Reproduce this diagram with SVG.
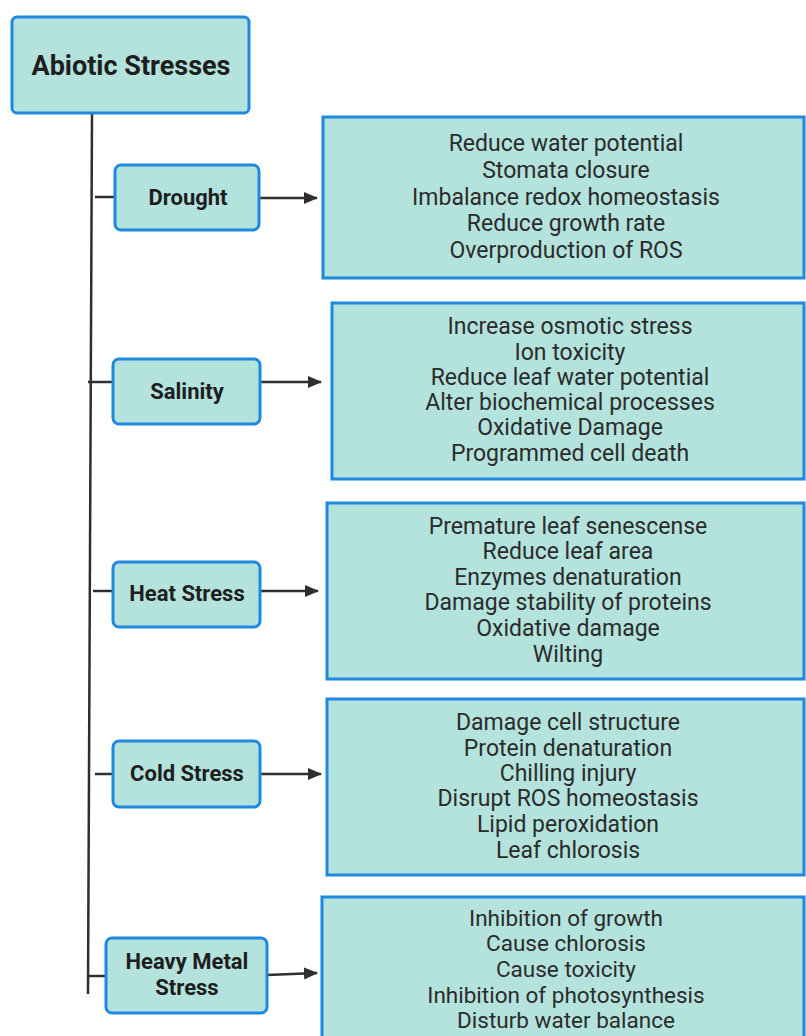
<svg xmlns="http://www.w3.org/2000/svg" width="806" height="1036" viewBox="0 0 806 1036">
<defs>
<style>
.node{fill:#b3e3dc;stroke:#1f88df;stroke-width:3}
.lbl{font-family:Roboto,"Liberation Sans",sans-serif;font-weight:bold;fill:#1e1e1e;text-anchor:middle;font-size:22px}
.res{font-family:Roboto,"Liberation Sans",sans-serif;font-size:23px;fill:#2b2b2b;text-anchor:middle}
.ln{stroke:#2e2e2e;stroke-width:2.5;fill:none}
</style>
<marker id="ah" markerWidth="14" markerHeight="14" refX="13" refY="7" orient="auto" markerUnits="userSpaceOnUse" viewBox="0 0 14 14">
<path d="M0,1 L14,7 L0,13 z" fill="#2e2e2e"/>
</marker>
</defs>
<rect width="806" height="1036" fill="#ffffff"/>
<g id="connectors">
<line class="ln" x1="92" y1="113" x2="88" y2="994"/>
<line class="ln" x1="95" y1="197" x2="115" y2="197"/>
<line class="ln" x1="259" y1="198" x2="317" y2="198" marker-end="url(#ah)"/>
<line class="ln" x1="88" y1="382" x2="113" y2="382"/>
<line class="ln" x1="260" y1="382" x2="321" y2="382" marker-end="url(#ah)"/>
<line class="ln" x1="93" y1="591" x2="113" y2="591"/>
<line class="ln" x1="260" y1="591" x2="318" y2="591" marker-end="url(#ah)"/>
<line class="ln" x1="95" y1="774" x2="113" y2="774"/>
<line class="ln" x1="260" y1="774" x2="321" y2="774" marker-end="url(#ah)"/>
<line class="ln" x1="88" y1="976" x2="106" y2="976"/>
<line class="ln" x1="267" y1="975" x2="317" y2="973" marker-end="url(#ah)"/>
</g>
<g id="root">
<rect class="node" x="12" y="17" width="237" height="96" rx="5"/>
<text class="lbl" x="131" y="75" style="font-size:27px">Abiotic Stresses</text>
</g>
<g id="drought">
<rect class="node" x="115" y="165" width="144" height="65" rx="6"/>
<text class="lbl" x="188" y="205">Drought</text>
</g>
<g id="drought-effects">
<rect class="node" x="323" y="117" width="481" height="161"/>
<text class="res" x="566" y="151">Reduce water potential</text>
<text class="res" x="566" y="178">Stomata closure</text>
<text class="res" x="566" y="205">Imbalance redox homeostasis</text>
<text class="res" x="566" y="231">Reduce growth rate</text>
<text class="res" x="566" y="258">Overproduction of ROS</text>
</g>
<g id="salinity">
<rect class="node" x="113" y="359" width="147" height="65" rx="6"/>
<text class="lbl" x="187" y="399">Salinity</text>
</g>
<g id="salinity-effects">
<rect class="node" x="332" y="303" width="472" height="176"/>
<text class="res" x="570" y="334">Increase osmotic stress</text>
<text class="res" x="570" y="360">Ion toxicity</text>
<text class="res" x="570" y="385">Reduce leaf water potential</text>
<text class="res" x="570" y="410">Alter biochemical processes</text>
<text class="res" x="570" y="435">Oxidative Damage</text>
<text class="res" x="570" y="461">Programmed cell death</text>
</g>
<g id="heat">
<rect class="node" x="113" y="562" width="147" height="65" rx="6"/>
<text class="lbl" x="187" y="601">Heat Stress</text>
</g>
<g id="heat-effects">
<rect class="node" x="327" y="503" width="477" height="176"/>
<text class="res" x="568" y="534">Premature leaf senescense</text>
<text class="res" x="568" y="559">Reduce leaf area</text>
<text class="res" x="568" y="585">Enzymes denaturation</text>
<text class="res" x="568" y="610">Damage stability of proteins</text>
<text class="res" x="568" y="636">Oxidative damage</text>
<text class="res" x="568" y="662">Wilting</text>
</g>
<g id="cold">
<rect class="node" x="113" y="741" width="147" height="66" rx="6"/>
<text class="lbl" x="187" y="781">Cold Stress</text>
</g>
<g id="cold-effects">
<rect class="node" x="327" y="699" width="477" height="176"/>
<text class="res" x="568" y="730">Damage cell structure</text>
<text class="res" x="568" y="756">Protein denaturation</text>
<text class="res" x="568" y="781">Chilling injury</text>
<text class="res" x="568" y="806">Disrupt ROS homeostasis</text>
<text class="res" x="568" y="832">Lipid peroxidation</text>
<text class="res" x="568" y="858">Leaf chlorosis</text>
</g>
<g id="heavy-metal">
<rect class="node" x="106" y="938" width="161" height="75" rx="6"/>
<text class="lbl" x="187" y="969">Heavy Metal</text>
<text class="lbl" x="187" y="995">Stress</text>
</g>
<g id="heavy-metal-effects">
<rect class="node" x="322" y="897" width="482" height="150"/>
<text class="res" x="566" y="926" style="font-size:22.5px">Inhibition of growth</text>
<text class="res" x="566" y="951" style="font-size:22.5px">Cause chlorosis</text>
<text class="res" x="566" y="977" style="font-size:22.5px">Cause toxicity</text>
<text class="res" x="566" y="1003" style="font-size:22.5px">Inhibition of photosynthesis</text>
<text class="res" x="566" y="1028" style="font-size:22.5px">Disturb water balance</text>
</g>
</svg>
